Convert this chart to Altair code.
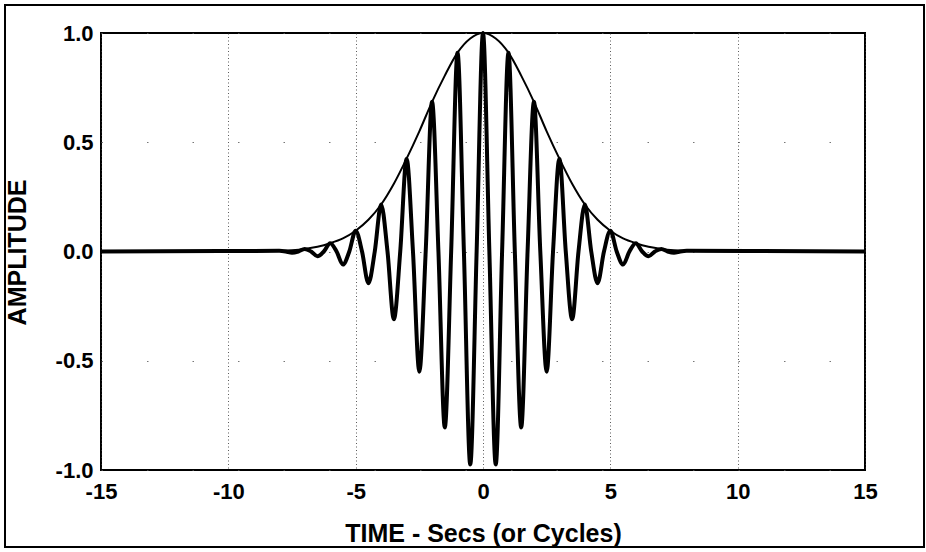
import altair as alt
import pandas as pd

# Gaussian envelope: time (s) and amplitude
env_t = [-15, -10, -9, -8, -7.5, -7, -6.5, -6, -5.5, -5, -4.5, -4, -3.5, -3, -2.5, -2, -1.5, -1, -0.5,
         0, 0.5, 1, 1.5, 2, 2.5, 3, 3.5, 4, 4.5, 5, 5.5, 6, 6.5, 7, 7.5, 8, 9, 10, 15]
env_amp = [0, 0, 0.001, 0.003, 0.006, 0.012, 0.022, 0.038, 0.06, 0.095, 0.145, 0.215, 0.31, 0.425, 0.55,
           0.685, 0.805, 0.91, 0.975,
           1.0, 0.975, 0.91, 0.805, 0.685, 0.55, 0.425, 0.31, 0.215, 0.145, 0.095, 0.06, 0.038, 0.022,
           0.012, 0.006, 0.003, 0.001, 0, 0]

# Modulated wave: crests/troughs every half cycle
peak_t = [-8, -7.5, -7, -6.5, -6, -5.5, -5, -4.5, -4, -3.5, -3, -2.5, -2, -1.5, -1, -0.5,
          0, 0.5, 1, 1.5, 2, 2.5, 3, 3.5, 4, 4.5, 5, 5.5, 6, 6.5, 7, 7.5, 8]
peak_amp = [0.003, -0.006, 0.012, -0.022, 0.038, -0.06, 0.095, -0.145, 0.215, -0.31, 0.425, -0.55,
            0.685, -0.805, 0.91, -0.975,
            1.0, -0.975, 0.91, -0.805, 0.685, -0.55, 0.425, -0.31, 0.215, -0.145, 0.095, -0.06,
            0.038, -0.022, 0.012, -0.006, 0.003]
# zero crossings between crests and troughs
zero_t = [-7.75, -7.25, -6.75, -6.25, -5.75, -5.25, -4.75, -4.25, -3.75, -3.25, -2.75, -2.25,
          -1.75, -1.25, -0.75, -0.25, 0.25, 0.75, 1.25, 1.75, 2.25, 2.75, 3.25, 3.75, 4.25, 4.75,
          5.25, 5.75, 6.25, 6.75, 7.25, 7.75]
# flat tails of the record
tail_t = [-15, 15]

x_ticks = [-15, -10, -5, 0, 5, 10, 15]
y_ticks = [-1.0, -0.5, 0.0, 0.5, 1.0]

env_df = pd.DataFrame({"t": env_t, "amp": env_amp})
wave_df = pd.DataFrame({
    "t": peak_t + zero_t + tail_t,
    "amp": peak_amp + [0.0] * len(zero_t) + [0.0] * len(tail_t),
}).sort_values("t")

FONT = "Liberation Sans"
# plain hyphen for negative tick labels
HYPHEN = "replace(datum.label, '\u2212', '-')"

x_enc = alt.X(
    "t:Q",
    scale=alt.Scale(domain=[-15, 15], nice=False, zero=False),
    axis=alt.Axis(
        values=x_ticks, title="TIME - Secs (or Cycles)", format="d", labelExpr=HYPHEN,
        domain=False, ticks=False, labelPadding=11,
        labelFont=FONT, labelFontSize=22, labelFontWeight="bold", labelColor="black",
        titleFont=FONT, titleFontSize=25, titleFontWeight="bold", titleColor="black",
        titleBaseline="alphabetic", titleY=71,
        grid=True, gridColor="#333", gridDash=[1, 2.5], gridWidth=1, gridOpacity=0.8,
        labelFlush=False,
    ),
)
y_enc = alt.Y(
    "amp:Q",
    scale=alt.Scale(domain=[-1, 1], nice=False, zero=False),
    axis=alt.Axis(
        values=y_ticks, title="AMPLITUDE", format=".1f", labelExpr=HYPHEN,
        domain=False, ticks=False, labelPadding=8,
        labelFont=FONT, labelFontSize=22, labelFontWeight="bold", labelColor="black",
        titleFont=FONT, titleFontSize=25, titleFontWeight="bold", titleColor="black",
        titleAngle=270, titleBaseline="alphabetic", titleX=-76, titleY=219,
        grid=True, gridColor="#555", gridDash=[1.5, 44], gridWidth=1, gridOpacity=0.8,
        labelFlush=False,
    ),
)

envelope = alt.Chart(env_df).mark_line(
    color="black", strokeWidth=2, interpolate="monotone"
).encode(x=x_enc, y=y_enc)

wave = alt.Chart(wave_df).mark_line(
    color="black", strokeWidth=4, interpolate="monotone", strokeJoin="round"
).encode(x="t:Q", y="amp:Q", order="t:Q")

# frame around the whole figure
border = alt.Chart(pd.DataFrame({"k": [0]})).mark_rect(
    fill=None, stroke="black", strokeWidth=2, clip=False
).encode(
    x=alt.value(-96), x2=alt.value(823), y=alt.value(-28), y2=alt.value(514)
)

chart = alt.layer(envelope, wave, border).properties(
    width=764, height=437,
    autosize=alt.AutoSizeParams(type="none"),
    padding={"left": 101, "top": 33, "right": 61, "bottom": 82},
    background="white",
).configure_view(stroke="black", strokeWidth=2)

chart.save("out.html", embed_options={"renderer": "svg", "actions": False})
